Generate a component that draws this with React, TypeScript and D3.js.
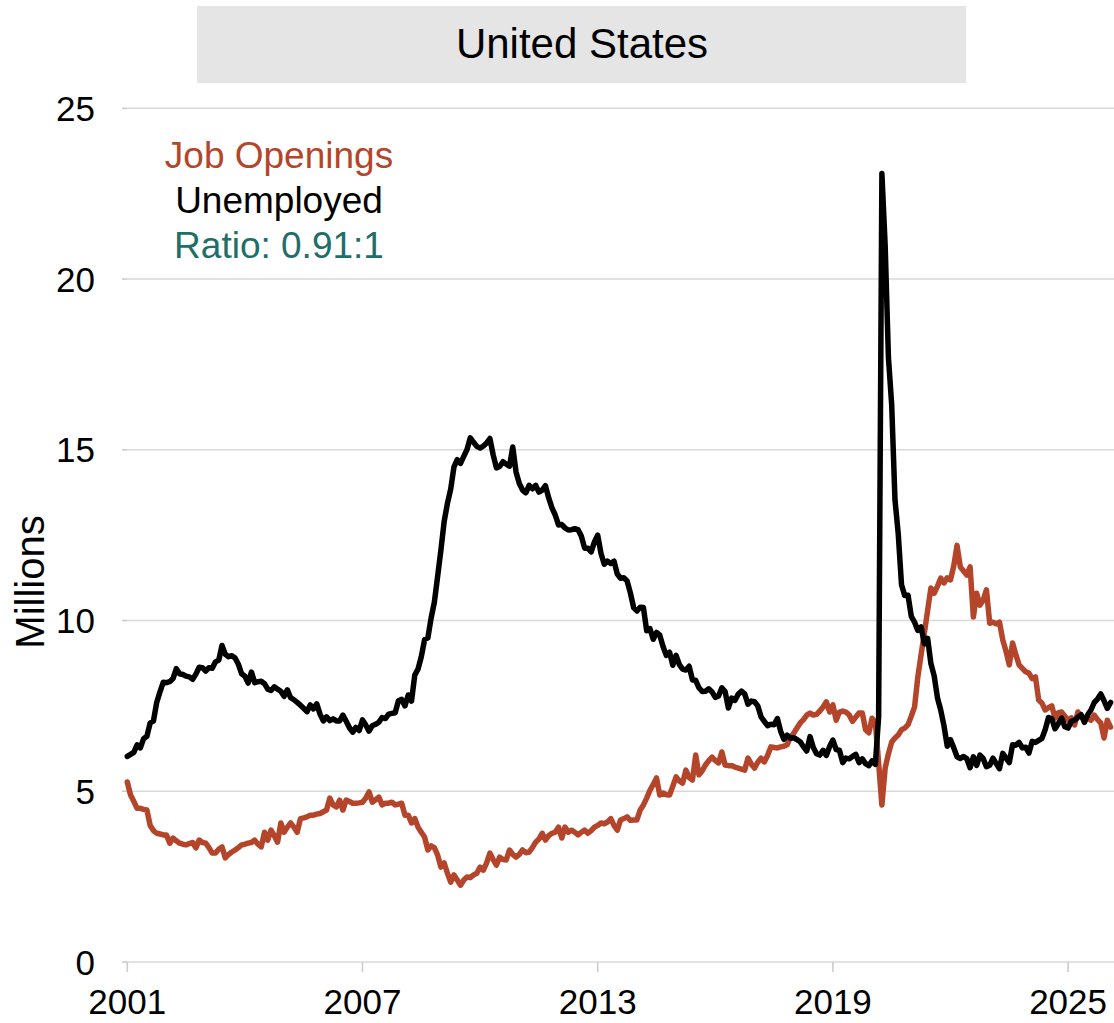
import React from 'react'
import * as d3 from 'd3'

// monthly values, millions, Jan 2001 onward
const unemployed = [
  // 2001
  6.02, 6.08, 6.14, 6.36, 6.27, 6.54, 6.61, 7.0, 7.06, 7.6, 7.91, 8.19,
  // 2002
  8.18, 8.21, 8.3, 8.59, 8.44, 8.42, 8.37, 8.35, 8.28, 8.43, 8.63, 8.62,
  // 2003
  8.52, 8.62, 8.6, 8.79, 8.84, 9.27, 9.01, 8.94, 8.97, 8.9, 8.72, 8.44,
  // 2004
  8.37, 8.17, 8.49, 8.18, 8.21, 8.22, 8.15, 7.99, 7.95, 8.06, 7.99, 7.93,
  // 2005
  7.78, 7.97, 7.74, 7.68, 7.6, 7.52, 7.43, 7.33, 7.53, 7.41, 7.56, 7.26,
  // 2006
  7.06, 7.18, 7.07, 7.12, 7.06, 7.06, 7.23, 7.05, 6.86, 6.73, 6.87, 6.78,
  // 2007
  7.09, 6.94, 6.76, 6.92, 6.96, 7.02, 7.16, 7.13, 7.26, 7.28, 7.3, 7.65,
  // 2008
  7.69, 7.5, 7.82, 7.64, 8.4, 8.58, 8.94, 9.44, 9.49, 10.07, 10.54, 11.29,
  // 2009
  12.06, 12.9, 13.43, 13.85, 14.5, 14.71, 14.6, 14.81, 15.01, 15.35, 15.22, 15.1,
  // 2010
  15.05, 15.11, 15.2, 15.33, 14.85, 14.47, 14.51, 14.65, 14.58, 14.52, 15.08, 14.35,
  // 2011
  14.01, 13.82, 13.74, 13.96, 13.86, 13.96, 13.76, 13.82, 13.95, 13.59, 13.3, 13.09,
  // 2012
  12.8, 12.81, 12.71, 12.65, 12.66, 12.69, 12.66, 12.47, 12.12, 12.12, 12.01, 12.3,
  // 2013
  12.5, 11.97, 11.65, 11.74, 11.67, 11.74, 11.36, 11.24, 11.25, 11.16, 10.81, 10.38,
  // 2014
  10.28, 10.39, 10.38, 9.7, 9.76, 9.45, 9.65, 9.57, 9.24, 8.98, 9.07, 8.69,
  // 2015
  8.98, 8.71, 8.58, 8.55, 8.66, 8.26, 8.25, 8.03, 7.92, 7.93, 8.0, 7.91,
  // 2016
  7.75, 7.79, 8.03, 7.92, 7.44, 7.73, 7.66, 7.84, 7.93, 7.85, 7.55, 7.64,
  // 2017
  7.62, 7.5, 7.18, 7.05, 6.92, 6.96, 6.95, 7.13, 6.76, 6.52, 6.64, 6.55,
  // 2018
  6.57, 6.51, 6.45, 6.3, 6.18, 6.6, 6.28, 6.1, 6.06, 6.2, 6.05, 6.31,
  // 2019
  6.5, 6.22, 6.2, 5.84, 5.97, 5.95, 6.02, 6.08, 5.84, 5.95, 5.81, 5.75,
  // 2020
  5.89, 5.79, 7.19, 23.09, 20.98, 17.7, 16.31, 13.54, 12.54, 11.05, 10.73, 10.74,
  // 2021
  10.12, 9.95, 9.71, 9.81, 9.32, 9.48, 8.74, 8.38, 7.74, 7.38, 6.92, 6.32,
  // 2022
  6.51, 6.27, 6.01, 5.96, 6.02, 5.95, 5.69, 6.01, 5.76, 6.06, 5.96, 5.72,
  // 2023
  5.76, 5.97, 5.81, 5.66, 6.11, 5.97, 5.84, 6.36, 6.35, 6.43, 6.27, 6.29,
  // 2024
  6.12, 6.46, 6.43, 6.49, 6.55, 6.81, 7.16, 7.12, 6.83, 6.98, 7.15, 6.89,
  // 2025
  6.85, 7.05, 7.08, 7.17, 7.24, 7.02, 7.24, 7.38, 7.6, 7.7, 7.85, 7.65,
  // 2026
  7.43, 7.6,
]

const jobOpenings = [
  // 2001
  5.27, 4.89, 4.7, 4.5, 4.5, 4.47, 4.45, 4.0, 3.85, 3.77, 3.75, 3.72,
  // 2002
  3.72, 3.48, 3.63, 3.55, 3.48, 3.45, 3.43, 3.47, 3.5, 3.34, 3.57, 3.5,
  // 2003
  3.48, 3.35, 3.19, 3.19, 3.3, 3.37, 3.05, 3.15, 3.22, 3.28, 3.35, 3.43,
  // 2004
  3.45, 3.48, 3.5, 3.57, 3.45, 3.37, 3.8, 3.57, 3.86, 3.7, 3.51, 4.07,
  // 2005
  3.8, 3.95, 4.07, 3.95, 3.8, 4.2, 4.22, 4.25, 4.3, 4.3, 4.33, 4.35,
  // 2006
  4.4, 4.45, 4.8, 4.6, 4.54, 4.74, 4.45, 4.74, 4.7, 4.65, 4.65, 4.66,
  // 2007
  4.68, 4.8, 4.98, 4.68, 4.75, 4.83, 4.6, 4.65, 4.65, 4.68, 4.6, 4.62,
  // 2008
  4.65, 4.3, 4.3, 4.07, 4.2, 3.95, 3.8, 3.66, 3.28, 3.4, 3.35, 3.13,
  // 2009
  2.78, 2.9, 2.6, 2.34, 2.55, 2.4, 2.25, 2.4, 2.49, 2.47, 2.55, 2.6,
  // 2010
  2.78, 2.69, 2.9, 3.19, 3.0, 2.84, 3.07, 3.0, 2.99, 3.28, 3.15, 3.07,
  // 2011
  3.15, 3.28, 3.2, 3.22, 3.35, 3.51, 3.6, 3.77, 3.57, 3.7, 3.77, 3.8,
  // 2012
  3.95, 3.63, 3.95, 3.8, 3.86, 3.8, 3.72, 3.8, 3.86, 3.77, 3.85, 3.95,
  // 2013
  4.0, 4.07, 4.05, 4.1, 4.2, 4.0, 3.86, 4.16, 4.2, 4.25, 4.15, 4.16,
  // 2014
  4.16, 4.45, 4.6, 4.8, 5.03, 5.2, 5.39, 4.89, 4.95, 4.9, 4.89, 5.15,
  // 2015
  5.42, 5.3, 5.24, 5.62, 5.4, 5.33, 6.06, 5.48, 5.6, 5.77, 5.9, 6.0,
  // 2016
  5.9, 5.83, 6.15, 5.77, 5.75, 5.75, 5.71, 5.68, 5.65, 5.62, 5.97, 5.8,
  // 2017
  5.68, 5.85, 5.97, 5.86, 6.05, 6.3, 6.28, 6.27, 6.3, 6.32, 6.36, 6.59,
  // 2018
  6.7, 6.85, 7.0, 7.1, 7.23, 7.29, 7.23, 7.25, 7.35, 7.47, 7.62, 7.32,
  // 2019
  7.53, 7.08, 7.32, 7.35, 7.32, 7.23, 7.05, 7.17, 7.29, 7.29, 6.8, 6.71,
  // 2020
  7.14, 7.0, 5.83, 4.6, 5.68, 6.1, 6.44, 6.56, 6.65, 6.8, 6.85, 6.95,
  // 2021
  7.2, 7.47, 8.35, 9.0, 9.63, 10.3, 10.95, 10.8, 11.0, 11.24, 11.1, 11.25,
  // 2022
  11.19, 11.6, 12.2, 11.57, 11.45, 11.33, 11.57, 10.1, 10.8, 10.45, 10.6, 10.9,
  // 2023
  9.92, 9.95, 9.9, 9.95, 9.43, 9.1, 8.7, 9.34, 9.0, 8.7, 8.6, 8.5,
  // 2024
  8.46, 8.3, 8.35, 7.67, 7.58, 7.38, 7.45, 7.5, 7.14, 7.3, 7.32, 7.2,
  // 2025
  7.08, 7.15, 6.94, 7.32, 7.2, 7.08, 7.15, 7.08, 7.23, 7.1, 7.0, 6.56,
  // 2026
  7.08, 6.88,
]

const yTicks = [0, 5, 10, 15, 20, 25]
const xTicks = [2001, 2007, 2013, 2019, 2025]
const legend = [
  { label: 'Job Openings', color: '#B5452A' },
  { label: 'Unemployed', color: '#000000' },
  { label: 'Ratio: 0.91:1', color: '#1E6E69' },
]

const W = 1114
const H = 1023
const font = 'Liberation Sans, Arial, Helvetica, sans-serif'

export default function App() {
  const x = d3.scaleLinear().domain([2001, 2026]).range([127.3, 1107.3])
  const y = d3.scaleLinear().domain([0, 25]).range([962, 108.3])

  const line = d3
    .line<number>()
    .x((_, i) => x(2001 + i / 12))
    .y((d) => y(d))

  return (
    <svg
      width={W}
      height={H}
      style={{ position: 'absolute', left: 0, top: 0, background: '#fff' }}
      fontFamily={font}
    >
      <defs>
        <clipPath id="plot">
          <rect x={120} y={90} width={W - 120} height={880} />
        </clipPath>
      </defs>

      {/* strip */}
      <rect x={197} y={6} width={769} height={77} fill="#E5E5E5" />
      <text x={582} y={58} textAnchor="middle" fontSize={42} fill="#000">
        United States
      </text>

      {/* grid + y axis */}
      {yTicks.map((t) => (
        <g key={t}>
          <line x1={127} x2={W} y1={y(t)} y2={y(t)} stroke="#D9D9D9" strokeWidth={1.6} />
          <line x1={122} x2={127} y1={y(t)} y2={y(t)} stroke="#CCCCCC" strokeWidth={1.6} />
          <text x={95} y={y(t) + 12.5} textAnchor="end" fontSize={35} fill="#000">
            {t}
          </text>
        </g>
      ))}

      {/* x axis */}
      {xTicks.map((t) => (
        <g key={t}>
          <line x1={x(t)} x2={x(t)} y1={962} y2={972} stroke="#CCCCCC" strokeWidth={1.6} />
          <text x={x(t)} y={1014} textAnchor="middle" fontSize={35} fill="#000">
            {t}
          </text>
        </g>
      ))}

      <text
        transform="translate(44,582) rotate(-90)"
        textAnchor="middle"
        fontSize={40}
        fill="#000"
      >
        Millions
      </text>

      <g clipPath="url(#plot)" fill="none" strokeLinejoin="round" strokeLinecap="round">
        <path d={line(jobOpenings) || ''} stroke="#B5452A" strokeWidth={5.5} />
        <path d={line(unemployed) || ''} stroke="#000" strokeWidth={5.5} />
      </g>

      {legend.map((l, i) => (
        <text key={l.label} x={279} y={168 + i * 45} textAnchor="middle" fontSize={37} fill={l.color}>
          {l.label}
        </text>
      ))}
    </svg>
  )
}
